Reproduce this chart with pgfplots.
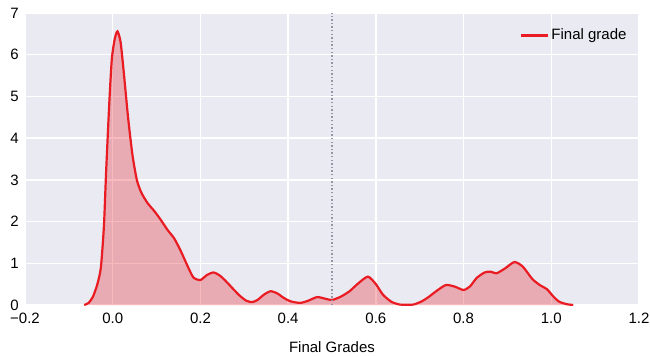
\documentclass[border=0pt]{standalone}
\usepackage{pgfplots}
\pgfplotsset{compat=1.18}
\usepackage{fontspec}
\setmainfont{Liberation Sans}
\definecolor{bgc}{RGB}{234,234,242}
\definecolor{kred}{RGB}{232,28,34}
\definecolor{dotc}{RGB}{150,150,160}
\pgfplotstableread{
x y
-0.065 0
-0.055 0.05
-0.045 0.2
-0.035 0.5
-0.027 0.9
-0.02 1.9
-0.015 3.2
-0.008 4.8
-0.002 5.9
0.005 6.4
0.011 6.56
0.018 6.3
0.025 5.6
0.035 4.5
0.045 3.6
0.055 3.0
0.065 2.7
0.079 2.45
0.095 2.25
0.109 2.05
0.125 1.8
0.14 1.6
0.155 1.3
0.17 0.95
0.184 0.66
0.2 0.6
0.215 0.72
0.23 0.78
0.245 0.7
0.26 0.55
0.275 0.38
0.29 0.22
0.305 0.1
0.318 0.07
0.33 0.12
0.345 0.25
0.36 0.33
0.375 0.28
0.39 0.17
0.405 0.09
0.427 0.05
0.445 0.1
0.466 0.19
0.485 0.15
0.5 0.12
0.52 0.2
0.54 0.33
0.56 0.52
0.582 0.68
0.6 0.5
0.616 0.25
0.635 0.08
0.655 0.01
0.685 0.01
0.705 0.09
0.72 0.19
0.74 0.35
0.76 0.48
0.78 0.44
0.8 0.36
0.815 0.45
0.83 0.65
0.848 0.78
0.862 0.8
0.875 0.76
0.895 0.88
0.916 1.03
0.935 0.92
0.957 0.62
0.975 0.47
0.99 0.38
1.005 0.2
1.018 0.08
1.035 0.02
1.05 0.0
}\kde
\newcommand{\fs}{\fontsize{15bp}{18bp}\selectfont}
\begin{document}
\fs
\begin{tikzpicture}
\begin{axis}[
  scale only axis,
  width=614bp, height=292bp,
  xmin=-0.2, xmax=1.2, ymin=0, ymax=7,
  xtick={-0.2,0,0.2,0.4,0.6,0.8,1.0,1.2},
  xticklabels={−0.2,0.0,0.2,0.4,0.6,0.8,1.0,1.2},
  ytick={0,1,...,7},
  /pgf/number format/assume math mode=true,
  axis background/.style={fill=bgc},
  axis line style={draw=none},
  major tick length=0pt,
  grid=major,
  major grid style={white, line width=1.3bp},
  tick label style={font=\fs},
  xticklabel style={yshift=-3bp},
  yticklabel style={xshift=-1bp},
  xlabel={Final Grades},
  xlabel style={at={(axis description cs:0.5,0)}, anchor=center, yshift=-42bp, font=\fs},
  legend style={at={(axis description cs:0.988,0.96)}, anchor=north east, draw=none, fill=none, font=\fs,
    legend image code/.code={\draw[#1] (0bp,0bp) -- (27bp,0bp);}},
  legend cell align=left,
]
\addplot[draw=none, fill=kred, fill opacity=0.3, smooth, tension=0.4, forget plot] table[x=x,y=y]{\kde} \closedcycle;
\addplot[kred, line width=2.2bp, smooth, tension=0.4] table[x=x,y=y]{\kde};
\addlegendentry{Final grade}
\addplot[dotc, line width=1.4bp, dash pattern=on 1.4bp off 2.2bp, forget plot] coordinates {(0.5,0) (0.5,7)};
\end{axis}
\pgfresetboundingbox
\path ([shift={(-25bp,-52bp)}]current axis.south west) rectangle ([shift={(11bp,13bp)}]current axis.north east);
\end{tikzpicture}
\end{document}
